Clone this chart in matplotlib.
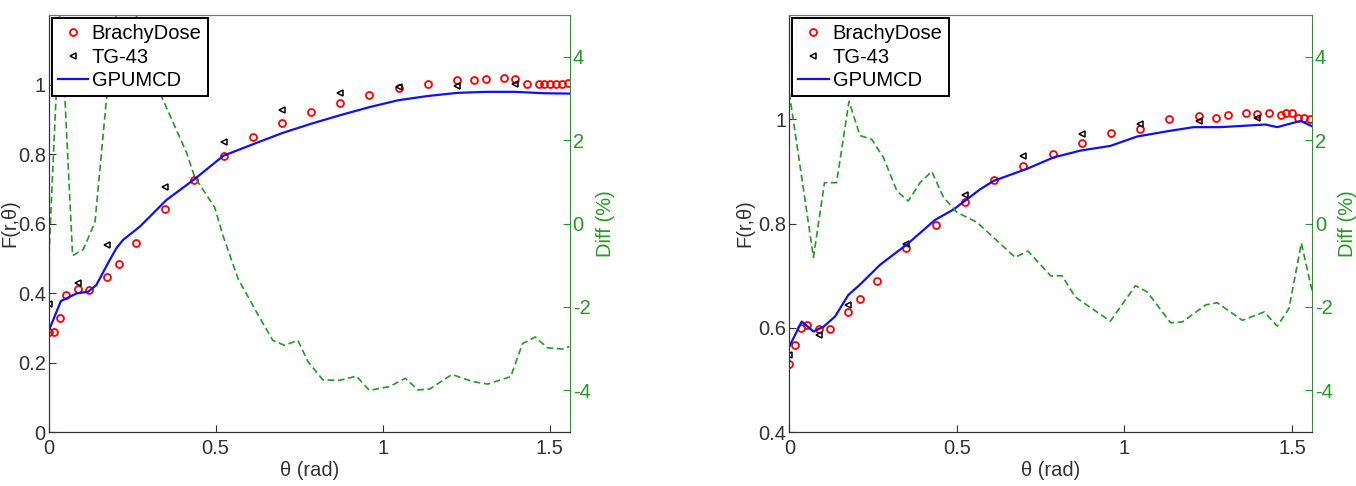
import matplotlib
matplotlib.use("Agg")
import matplotlib.pyplot as plt
import numpy as np

plt.rcParams['font.family'] = ['Liberation Sans', 'DejaVu Sans']
plt.rcParams['axes.unicode_minus'] = False

# angles (deg) used for the BrachyDose and TG-43 points
bd_deg = [0, 1, 2, 3, 5, 7, 10, 12, 15, 20, 25, 30, 35, 40, 45, 50, 55, 60,
          65, 70, 73, 75, 78, 80, 82, 84, 85, 86, 87, 88, 89]
tg_deg = [0, 5, 10, 20, 30, 40, 50, 60, 70, 80]

# left panel
bd_left = [0.287, 0.287, 0.327, 0.395, 0.412, 0.408, 0.445, 0.483, 0.545, 0.642,
           0.724, 0.795, 0.849, 0.889, 0.921, 0.948, 0.969, 0.990, 1.001, 1.012,
           1.014, 1.017, 1.018, 1.016, 1.002, 1.003, 1.003, 1.003, 1.003, 1.003, 1.005]
tg_left = [0.368, 0.428, 0.537, 0.705, 0.835, 0.928, 0.975, 0.993, 0.997, 1.002]
gpu_x_left = [0, 0.037, 0.084, 0.119, 0.143, 0.183, 0.203, 0.223, 0.273, 0.353,
              0.437, 0.523, 0.611, 0.698, 0.785, 0.873, 0.960, 1.047, 1.134, 1.222,
              1.309, 1.396, 1.484, 1.558]
gpu_left = [0.290, 0.377, 0.399, 0.404, 0.423, 0.495, 0.529, 0.553, 0.591, 0.668,
            0.728, 0.795, 0.828, 0.860, 0.887, 0.912, 0.935, 0.955, 0.967, 0.976,
            0.979, 0.979, 0.975, 0.974]
diff_x_left = [0, 0.035, 0.072, 0.104, 0.139, 0.174, 0.209, 0.262, 0.338, 0.413,
               0.437, 0.497, 0.522, 0.567, 0.622, 0.671, 0.706, 0.746, 0.776, 0.821,
               0.871, 0.921, 0.960, 1.020, 1.068, 1.105, 1.140, 1.207, 1.269, 1.314,
               1.383, 1.418, 1.456, 1.493, 1.538, 1.558]
diff_left = [-1.0, 5.3, -0.77, -0.62, 0.03, 3.05, 5.5, 5.0, 3.05, 1.70,
             1.12, 0.39, -0.29, -1.32, -2.12, -2.80, -2.92, -2.80, -3.31, -3.75,
             -3.76, -3.66, -4.00, -3.91, -3.71, -3.99, -3.97, -3.62, -3.79, -3.85,
             -3.67, -2.88, -2.72, -2.98, -3.01, -2.95]

# right panel
bd_right = [0.530, 0.567, 0.599, 0.605, 0.597, 0.597, 0.630, 0.656, 0.690, 0.753,
            0.797, 0.841, 0.884, 0.911, 0.933, 0.954, 0.974, 0.981, 1.001, 1.007,
            1.002, 1.008, 1.012, 1.010, 1.013, 1.008, 1.012, 1.013, 1.003, 1.002, 1.000]
tg_right = [0.548, 0.586, 0.644, 0.761, 0.854, 0.930, 0.972, 0.991, 0.997, 1.002]
gpu_x_right = [0, 0.037, 0.072, 0.102, 0.137, 0.176, 0.211, 0.271, 0.351, 0.435,
               0.490, 0.570, 0.610, 0.709, 0.789, 0.869, 0.958, 1.038, 1.137, 1.207,
               1.287, 1.421, 1.456, 1.526, 1.562]
gpu_right = [0.564, 0.612, 0.593, 0.602, 0.622, 0.663, 0.683, 0.721, 0.760, 0.807,
             0.827, 0.866, 0.882, 0.905, 0.927, 0.940, 0.949, 0.967, 0.978, 0.985,
             0.985, 0.990, 0.985, 0.997, 0.986]
diff_x_right = [0, 0.072, 0.105, 0.141, 0.178, 0.211, 0.246, 0.281, 0.321, 0.355,
                0.390, 0.425, 0.460, 0.500, 0.560, 0.674, 0.712, 0.781, 0.814, 0.853,
                0.958, 1.033, 1.068, 1.138, 1.173, 1.243, 1.277, 1.352, 1.417, 1.456,
                1.491, 1.528, 1.562]
diff_right = [3.13, -0.81, 0.98, 0.98, 2.93, 2.11, 2.02, 1.58, 0.78, 0.54,
              0.98, 1.25, 0.63, 0.27, 0.03, -0.81, -0.66, -1.26, -1.25, -1.76,
              -2.34, -1.49, -1.64, -2.38, -2.36, -1.95, -1.90, -2.32, -2.12, -2.46,
              -2.04, -0.47, -1.68]

GREEN = '#239a23'
AXC = '#333333'
FS = 14.5


def panel(fig, rect, bd, tg, gx, gy, dx, dy, ylim, yticks, ylabels, ylab_x):
    ax = fig.add_axes(rect)
    ax2 = ax.twinx()

    h1, = ax.plot(np.deg2rad(bd_deg), bd, 'o', mfc='none', mec='#ff0000',
                  ms=5, mew=1.3, label='BrachyDose')
    h2, = ax.plot(np.deg2rad(tg_deg), tg, '<', mfc='none', mec='black',
                  ms=5, mew=1.1, label='TG-43')
    h3, = ax.plot(gx, gy, '-', color='#1010f0', lw=1.6, label='GPUMCD')

    ax2.plot(dx, dy, '--', color=GREEN, lw=1.2, dashes=(4, 2.2))

    ax.set_xlim(0, 1.56)
    ax.set_ylim(*ylim)
    ax.set_xticks([0, 0.5, 1, 1.5])
    ax.set_xticklabels(['0', '0.5', '1', '1.5'])
    ax.set_yticks(yticks)
    ax.set_yticklabels(ylabels)
    ax2.set_ylim(-5, 5)
    ax2.set_yticks([-4, -2, 0, 2, 4])
    ax2.set_yticklabels(['-4', '-2', '0', '2', '4'])

    ax.tick_params(direction='in', length=5, labelsize=FS, colors=AXC, pad=2)
    ax.tick_params(axis='x', pad=5)
    ax.tick_params(axis='y', which='both', right=False)
    ax2.tick_params(direction='in', length=5, labelsize=FS, colors=GREEN, pad=2)

    for s in ['left', 'bottom']:
        ax.spines[s].set_color(AXC)
        ax2.spines[s].set_color(AXC)
    ax.spines['top'].set_color('#777777')
    ax2.spines['top'].set_color('#777777')
    ax2.spines['right'].set_color(GREEN)
    ax.spines['right'].set_visible(False)

    ax.set_xlabel('θ (rad)', fontsize=FS, color=AXC, labelpad=2)
    ax.set_ylabel('F(r,θ)', fontsize=FS, color=AXC)
    ax.yaxis.set_label_coords(ylab_x, 0.5)
    ax2.set_ylabel('Diff (%)', fontsize=FS, color=GREEN, labelpad=4)

    leg = ax2.legend([h1, h2, h3], ['BrachyDose', 'TG-43', 'GPUMCD'],
                     loc='upper left', fontsize=FS, frameon=True, fancybox=False,
                     framealpha=1, edgecolor='black', borderaxespad=0.15,
                     borderpad=0.3, labelspacing=0.22, handlelength=1.5,
                     handletextpad=0.2)
    leg.get_frame().set_linewidth(1.4)
    return ax, ax2


fig = plt.figure(figsize=(13.56, 4.86), dpi=100)
panel(fig, [0.0358, 0.111, 0.3845, 0.858], bd_left, tg_left,
      gpu_x_left, gpu_left, diff_x_left, diff_left,
      (0, 1.2), [0, 0.2, 0.4, 0.6, 0.8, 1], ['0', '0.2', '0.4', '0.6', '0.8', '1'],
      -0.056)
panel(fig, [0.5821, 0.111, 0.3855, 0.858], bd_right, tg_right,
      gpu_x_right, gpu_right, diff_x_right, diff_right,
      (0.4, 1.2), [0.4, 0.6, 0.8, 1], ['0.4', '0.6', '0.8', '1'],
      -0.066)

fig.savefig('out.png', dpi=100)
